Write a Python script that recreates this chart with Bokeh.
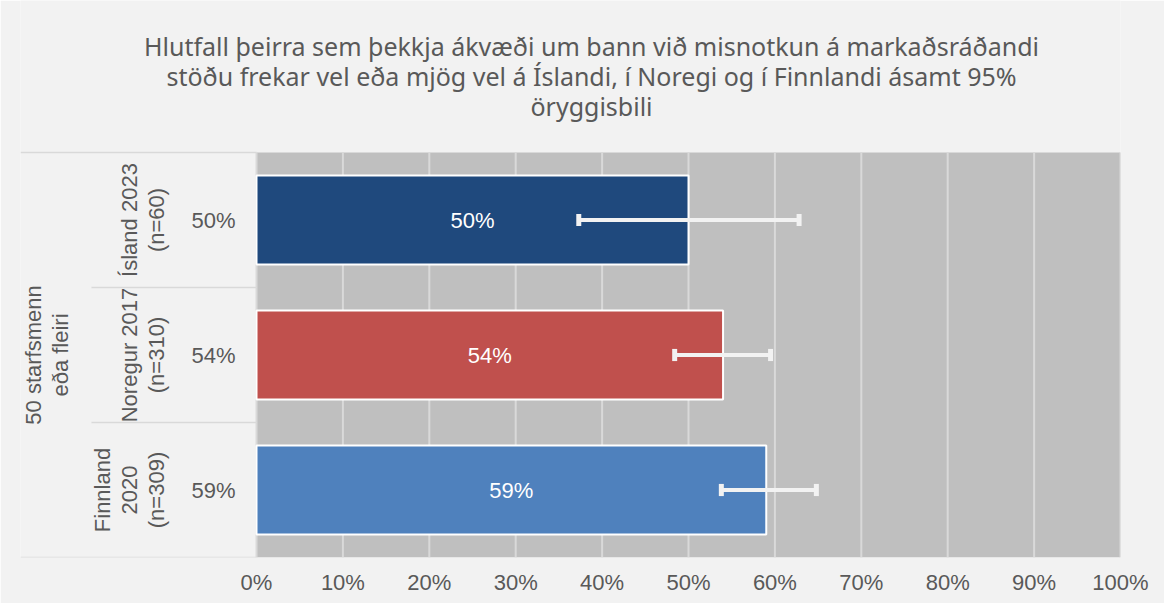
from bokeh.plotting import figure
from bokeh.models import Range1d, FixedTicker, ColumnDataSource
from bokeh.core.properties import value
from bokeh.embed import file_html
from bokeh.resources import INLINE

# ---------------- data ----------------
title_lines = [
    "Hlutfall þeirra sem þekkja ákvæði um bann við misnotkun á markaðsráðandi",
    "stöðu frekar vel eða mjög vel á Íslandi, í Noregi og í Finnlandi ásamt 95%",
    "öryggisbili",
]
group_label = "50 starfsmenn\neða fleiri"
categories = ["Ísland 2023\n(n=60)", "Noregur 2017\n(n=310)", "Finnland\n2020\n(n=309)"]
values = [50, 54, 59]
ci_lower = [37.3, 48.4, 53.8]
ci_upper = [62.8, 59.5, 64.8]
bar_colors = ["#1F497D", "#C0504D", "#4F81BD"]
x_ticks = [0, 10, 20, 30, 40, 50, 60, 70, 80, 90, 100]
x_tick_labels = ["0%", "10%", "20%", "30%", "40%", "50%", "60%", "70%", "80%", "90%", "100%"]

# ---------------- layout constants ----------------
PX_PER_X = 8.64           # pixels per percent
PX_PER_Y = 135            # pixels per category band
LEFT_AREA = 236           # pixels of label area left of 0%
TOP_AREA = 152            # pixels above the plot area (title zone)
FRAME_H = 557
X_START = -LEFT_AREA / PX_PER_X
TEXT_COLOR = "#595959"
FONT = "Liberation Sans"

n = len(categories)
ys = [n - 1 - i for i in range(n)]
labels = [f"{v}%" for v in values]
cap = 0.045
Y_TOP = n - 0.5
Y_END = -0.5 + FRAME_H / PX_PER_Y

src = ColumnDataSource(dict(
    y=ys, value=values, lo=ci_lower, hi=ci_upper, color=bar_colors,
    cat=categories, label=labels, mid=[v / 2 for v in values],
    cap0=[y - cap for y in ys], cap1=[y + cap for y in ys],
))

p = figure(
    width=1164, height=603,
    x_range=Range1d(X_START, 100), y_range=Range1d(-0.5, Y_END),
    output_backend="svg", toolbar_location=None,
    min_border_left=20, min_border_right=44, min_border_bottom=46, min_border_top=0,
)
p.background_fill_color = "#F2F2F2"
p.border_fill_color = "#F2F2F2"
p.outline_line_color = None
p.xgrid.visible = False
p.ygrid.visible = False
p.yaxis.visible = False

# title (three centred lines drawn in the zone above the plot area)
title_px = [45, 75, 105]
p.text(x=[(591 - LEFT_AREA - 20) / PX_PER_X] * len(title_lines),
       y=[Y_TOP + (TOP_AREA - t) / PX_PER_Y for t in title_px],
       text=title_lines, text_color=TEXT_COLOR, text_font=value("Noto Sans"),
       text_font_size="25px", text_align="center", text_baseline="middle")

# x axis
xa = p.xaxis[0]
xa.ticker = FixedTicker(ticks=x_ticks)
xa.major_label_overrides = {t: l for t, l in zip(x_ticks, x_tick_labels)}
xa.axis_line_color = None
xa.major_tick_line_color = None
xa.minor_tick_line_color = None
xa.major_label_text_font = FONT
xa.major_label_text_font_size = "22px"
xa.major_label_text_color = TEXT_COLOR
xa.major_label_standoff = 6

# plot area
p.quad(left=[x_ticks[0]], right=[x_ticks[-1]], bottom=[-0.5], top=[Y_TOP],
       fill_color="#BFBFBF", line_color=None)
p.segment(x0=x_ticks, x1=x_ticks, y0=[-0.5] * len(x_ticks), y1=[Y_TOP] * len(x_ticks),
          line_color="#D9D9D9", line_width=2)

# bars
p.hbar(y="y", left=0, right="value", height=0.66, source=src,
       fill_color="color", line_color="white", line_width=2)

# error bars
p.segment(x0="lo", x1="hi", y0="y", y1="y", source=src, line_color="#F2F2F2", line_width=4)
p.segment(x0="lo", x1="lo", y0="cap0", y1="cap1", source=src,
          line_color="#F2F2F2", line_width=5)
p.segment(x0="hi", x1="hi", y0="cap0", y1="cap1", source=src,
          line_color="#F2F2F2", line_width=5)

# bar value labels
p.text(x="mid", y="y", text="label", source=src, text_color="white",
       text_font=value(FONT), text_font_size="22px",
       text_align="center", text_baseline="middle")

# left category area
p.text(x=[-4.98] * n, y=ys, text=labels, text_color=TEXT_COLOR,
       text_font=value(FONT), text_font_size="22px",
       text_align="center", text_baseline="middle")
p.text(x=[-10.1] * n, y=ys, text=categories, text_color=TEXT_COLOR,
       text_font=value(FONT), text_font_size="22px", angle=1.5708,
       text_align="center", text_baseline="bottom", text_line_height=1.08)
p.text(x=[-24.3], y=[(n - 1) / 2], text=[group_label], text_color=TEXT_COLOR,
       text_font=value(FONT), text_font_size="22px", angle=1.5708,
       text_align="center", text_baseline="middle", text_line_height=1.08)

# separators
sep_inner = -19.1
p.segment(x0=[X_START] + [sep_inner] * (n - 1) + [X_START],
          x1=[0] * (n + 1),
          y0=[Y_TOP] + [y + 0.5 for y in ys[1:]] + [-0.5],
          y1=[Y_TOP] + [y + 0.5 for y in ys[1:]] + [-0.5],
          line_color="#D9D9D9", line_width=1.5)

open("out.html", "w").write(file_html(p, INLINE))
